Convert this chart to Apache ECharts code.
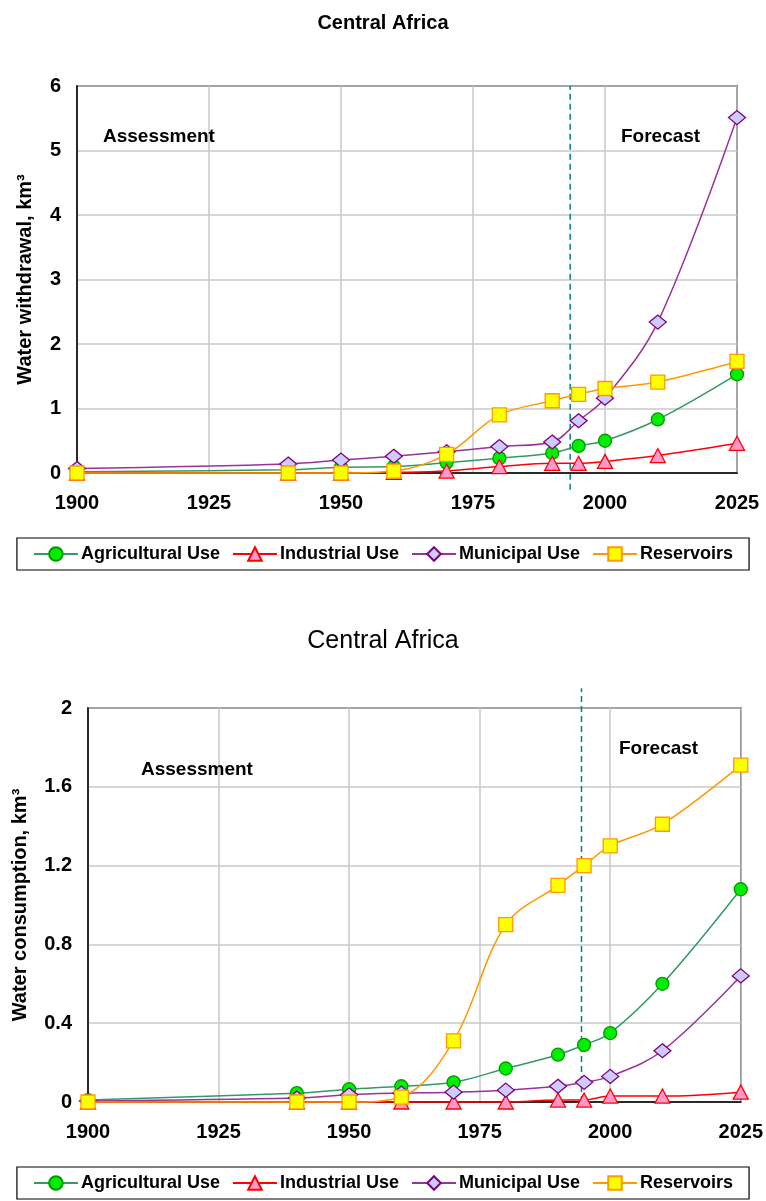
<!DOCTYPE html>
<html>
<head>
<meta charset="utf-8">
<script src="https://cdn.jsdelivr.net/npm/echarts@6/dist/echarts.min.js"></script>
<style>
html,body{margin:0;padding:0;background:#fff;}
#chart{width:766px;height:1201px;}
</style>
</head>
<body>
<div id="chart"></div>
<script>
// ---- data ----
const years = [1900, 1940, 1950, 1960, 1970, 1980, 1990, 1995, 2000, 2010, 2025];
const seriesNames = ['Agricultural Use', 'Industrial Use', 'Municipal Use', 'Reservoirs'];

// Water withdrawal (km3)
const withdrawalAgricultural = [0.02, 0.05, 0.09, 0.10, 0.16, 0.23, 0.31, 0.42, 0.50, 0.83, 1.53];
const withdrawalIndustrial   = [0.00, 0.00, 0.00, 0.01, 0.03, 0.10, 0.15, 0.15, 0.18, 0.27, 0.46];
const withdrawalMunicipal    = [0.07, 0.14, 0.20, 0.26, 0.33, 0.41, 0.48, 0.81, 1.16, 2.34, 5.51];
const withdrawalReservoirs   = [0.00, 0.00, 0.00, 0.03, 0.29, 0.90, 1.12, 1.22, 1.31, 1.41, 1.73];

// Water consumption (km3)
const consumptionAgricultural = [0.01, 0.045, 0.065, 0.08, 0.10, 0.17, 0.24, 0.29, 0.35, 0.60, 1.08];
const consumptionIndustrial   = [0.00, 0.00, 0.00, 0.00, 0.00, 0.00, 0.01, 0.01, 0.03, 0.03, 0.05];
const consumptionMunicipal    = [0.005, 0.02, 0.037, 0.045, 0.05, 0.06, 0.08, 0.10, 0.13, 0.26, 0.64];
const consumptionReservoirs   = [0.00, 0.00, 0.00, 0.025, 0.31, 0.90, 1.10, 1.20, 1.30, 1.41, 1.71];

// assessment / forecast divider (year, y-range)
const dividerTop = [[1993.4, -0.26], [1993.4, 6.0]];
const dividerBottom = [[1994.5, 0.0], [1994.5, 2.1]];

// axis ticks
const xTicks = {min: 1900, max: 2025, interval: 25};
const yTicksTop = {min: 0, max: 6, interval: 1};
const yTicksBottom = {min: 0, max: 2, interval: 0.4};

// ---- styles ----
const FONT = 'Liberation Sans, Arial, sans-serif';
const styles = [
  {symbol: 'circle', size: 13, line: '#339966', fill: '#00ee00', border: '#009900'},
  {symbol: 'triangle', size: [15, 14], line: '#ff0000', fill: '#ff99cc', border: '#ff0000'},
  {symbol: 'diamond', size: [17, 14], line: '#993399', fill: '#ccccff', border: '#800080'},
  {symbol: 'rect', size: 14, line: '#ff9900', fill: '#ffff00', border: '#ff9900'}
];

function pairs(vals) { return years.map((y, i) => [y, vals[i]]); }

function makeSeries(dataSets, idx) {
  return dataSets.map((vals, i) => ({
    name: seriesNames[i],
    type: 'line',
    xAxisIndex: idx, yAxisIndex: idx,
    data: pairs(vals),
    smooth: 0.35,
    symbol: styles[i].symbol,
    symbolSize: styles[i].size,
    showAllSymbol: true,
    clip: false,
    lineStyle: {color: styles[i].line, width: 1.5},
    itemStyle: {color: styles[i].fill, borderColor: styles[i].border, borderWidth: 1.3},
    emphasis: {disabled: true},
    z: 3 + i
  }));
}

function dividerSeries(data, idx) {
  return {
    type: 'line', xAxisIndex: idx, yAxisIndex: idx,
    data: data, symbol: 'none', clip: false, silent: true,
    lineStyle: {color: '#008080', width: 1.5, type: [6, 4]},
    z: 2
  };
}

function xAxis(gridIndex) {
  return {
    type: 'value', gridIndex: gridIndex,
    min: xTicks.min, max: xTicks.max, interval: xTicks.interval,
    axisLine: {show: true, onZero: false, lineStyle: {color: '#000', width: 1.5}},
    axisTick: {show: false},
    axisLabel: {margin: 20, color: '#000', fontFamily: FONT, fontWeight: 'bold', fontSize: 20,
                formatter: v => String(v)},
    splitLine: {show: true, lineStyle: {color: '#c8c8c8', width: 1.5}}
  };
}

function yAxis(gridIndex, ticks, name, gap) {
  return {
    type: 'value', gridIndex: gridIndex,
    min: ticks.min, max: ticks.max, interval: ticks.interval,
    name: name, nameLocation: 'middle', nameGap: gap, nameRotate: 90,
    nameTextStyle: {color: '#000', fontFamily: FONT, fontWeight: 'bold', fontSize: 20},
    axisLine: {show: true, lineStyle: {color: '#000', width: 1.5}},
    axisTick: {show: false},
    axisLabel: {margin: 16, color: '#000', fontFamily: FONT, fontWeight: 'bold', fontSize: 20},
    splitLine: {show: true, lineStyle: {color: '#c8c8c8', width: 1.5}}
  };
}

function legend(top) {
  return {
    top: top, left: 'center',
    data: seriesNames,
    orient: 'horizontal',
    itemWidth: 44, itemHeight: 17, itemGap: 12,
    padding: [7, 16],
    borderColor: '#000', borderWidth: 1.2,
    selectedMode: false,
    textStyle: {color: '#000', fontFamily: FONT, fontWeight: 'bold', fontSize: 18, padding: [0, 0, 0, -2]}
  };
}

const chart = echarts.init(document.getElementById('chart'), null, {renderer: 'canvas'});
chart.setOption({
  animation: false,
  backgroundColor: '#fff',
  title: [
    {text: 'Central Africa', left: 'center', top: 8,
     textStyle: {fontFamily: FONT, fontWeight: 'bold', fontSize: 20, color: '#000'}},
    {text: 'Central Africa', left: 'center', top: 624,
     textStyle: {fontFamily: FONT, fontWeight: 'normal', fontSize: 25, color: '#000'}},
    {text: 'Assessment', left: 98, top: 122,
     textStyle: {fontFamily: FONT, fontWeight: 'bold', fontSize: 19, color: '#000'}},
    {text: 'Forecast', left: 616, top: 122,
     textStyle: {fontFamily: FONT, fontWeight: 'bold', fontSize: 19, color: '#000'}},
    {text: 'Assessment', left: 136, top: 755,
     textStyle: {fontFamily: FONT, fontWeight: 'bold', fontSize: 19, color: '#000'}},
    {text: 'Forecast', left: 614, top: 734,
     textStyle: {fontFamily: FONT, fontWeight: 'bold', fontSize: 19, color: '#000'}}
  ],
  legend: [legend(538), legend(1167)],
  grid: [
    {left: 77, right: 29, top: 86, bottom: 1201 - 473, show: true, borderColor: '#000', borderWidth: 1.5},
    {left: 88, right: 22, top: 708, bottom: 1201 - 1102, show: true, borderColor: '#000', borderWidth: 1.5}
  ],
  xAxis: [xAxis(0), xAxis(1)],
  yAxis: [
    yAxis(0, yTicksTop, 'Water withdrawal, km³', 42),
    yAxis(1, yTicksBottom, 'Water consumption, km³', 58)
  ],
  series: [
    dividerSeries(dividerTop, 0),
    dividerSeries(dividerBottom, 1),
    ...makeSeries([withdrawalAgricultural, withdrawalIndustrial, withdrawalMunicipal, withdrawalReservoirs], 0),
    ...makeSeries([consumptionAgricultural, consumptionIndustrial, consumptionMunicipal, consumptionReservoirs], 1)
  ]
});
</script>
</body>
</html>
